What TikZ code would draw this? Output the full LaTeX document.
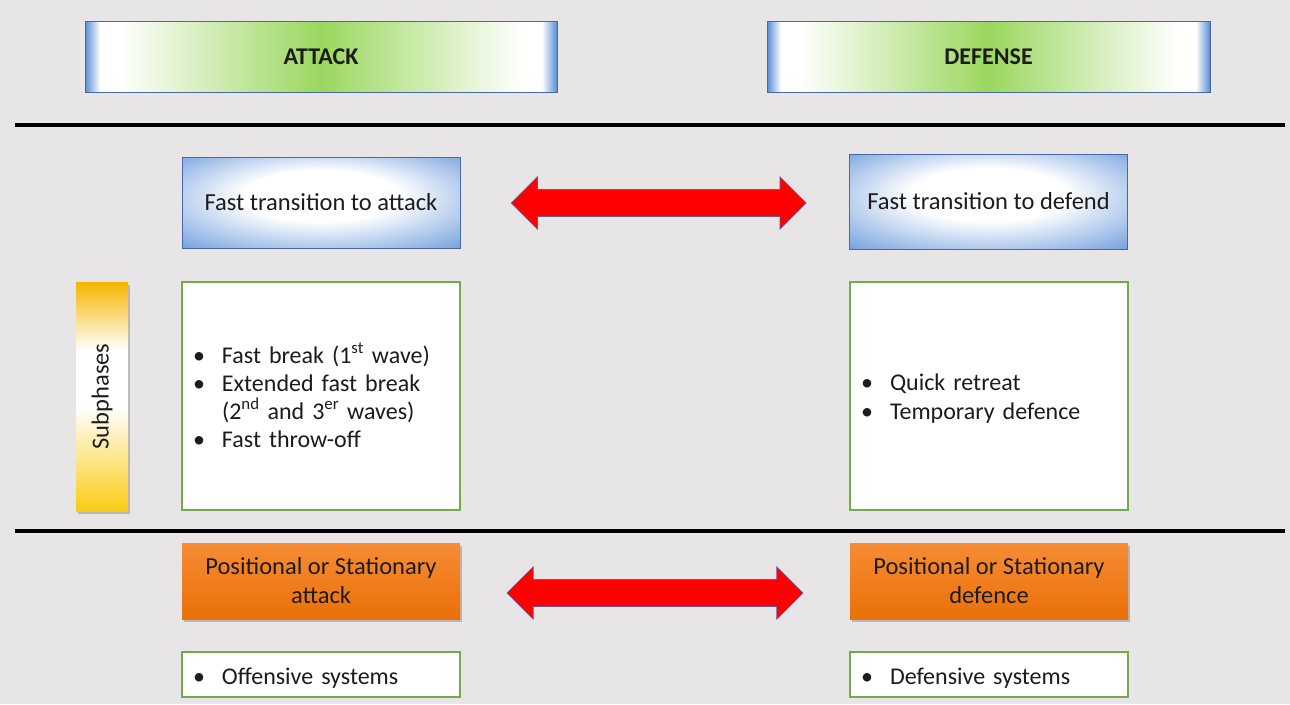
\documentclass[tikz,border=0pt]{standalone}
\usepackage{fontspec}
\setmainfont{Carlito}
\usetikzlibrary{shadows,calc}

\definecolor{bg}{RGB}{231,229,230}
\definecolor{hdrblue}{RGB}{88,140,212}
\definecolor{hdrgreen}{RGB}{155,215,95}
\definecolor{boxblue}{RGB}{84,138,214}
\definecolor{edgeblue}{RGB}{72,104,168}
\definecolor{framegreen}{RGB}{112,173,71}
\definecolor{goldtop}{RGB}{245,182,0}
\definecolor{goldbot}{RGB}{250,204,20}
\definecolor{orangetop}{RGB}{246,140,52}
\definecolor{orangebot}{RGB}{234,112,8}
\definecolor{arrowedge}{RGB}{112,84,150}
\definecolor{ink}{RGB}{28,28,28}

% blue rim, white band, green centre
\pgfdeclarehorizontalshading{hdrshade}{100bp}{color(0bp)=(hdrblue); color(25bp)=(hdrblue); color(26.6bp)=(white); color(28.6bp)=(white); color(50bp)=(hdrgreen); color(71.4bp)=(white); color(73.4bp)=(white); color(75bp)=(hdrblue); color(100bp)=(hdrblue)}
% white glow fading to blue
\pgfdeclareradialshading{phaseshade}{\pgfpoint{0bp}{5bp}}{color(0bp)=(white); color(14bp)=(white); color(42bp)=(boxblue); color(50bp)=(boxblue)}
% gold ends with a white middle
\pgfdeclareverticalshading{subshade}{100bp}{color(0bp)=(goldbot); color(25bp)=(goldbot); color(48bp)=(white); color(60bp)=(white); color(75bp)=(goldtop); color(100bp)=(goldtop)}

\newcommand\bitem[1]{\makebox[29pt][l]{\textbullet}#1}
\newcommand\redarrow[2]{%
  \filldraw[fill=red, draw=arrowedge, line width=0.7pt]
    (#1) -- ($(#1)+(26,-26)$) -- ($(#1)+(26,-13.5)$)
    -- ($(#2)+(-26,-13.5)$) -- ($(#2)+(-26,-26)$) -- (#2)
    -- ($(#2)+(-26,26)$) -- ($(#2)+(-26,13.5)$)
    -- ($(#1)+(26,13.5)$) -- ($(#1)+(26,26)$) -- cycle;}

\begin{document}
\begin{tikzpicture}[x=1pt, y=-1pt,
  every node/.style={font=\fontsize{24.5}{29}\selectfont, text=ink},
  header/.style={draw=edgeblue, line width=0.9pt, shading=hdrshade,
    minimum width=#1, minimum height=71, inner sep=0pt,
    font=\fontsize{24}{28}\selectfont\bfseries},
  phase/.style={draw=edgeblue, line width=0.9pt, shading=phaseshade,
    minimum width=278, minimum height=#1, inner sep=0pt},
  listbox/.style={draw=framegreen, fill=white, line width=1.8pt,
    text width=256, inner xsep=11, inner ysep=0pt,
    minimum height=#1, align=left, font=\fontsize{24}{29}\selectfont},
  posbox/.style={top color=orangetop, bottom color=orangebot,
    minimum width=278, minimum height=76, inner sep=0pt, align=center,
    drop shadow={shadow xshift=1.5pt, shadow yshift=-3pt, opacity=0.3, fill=black!70}},
  subbar/.style={shading=subshade, minimum width=52, minimum height=229,
    inner sep=0pt,
    drop shadow={shadow xshift=1.5pt, shadow yshift=-3pt, opacity=0.3, fill=black!70}},
  rule/.style={line width=4pt, black}]

\fill[bg] (0,0) rectangle (1290,704);
\useasboundingbox (0,0) rectangle (1290,704);

% column headers
\node[header=472] (hatk) at (321,56.5) {ATTACK};
\node[header=443] (hdef) at (988.5,56.5) {DEFENSE};

% separators
\draw[rule] (15,125) -- (1285,125);
\draw[rule] (15,531) -- (1285,531);

% transition phases
\node[phase=91] (fta) at (321,202.5) {Fast transition to attack};
\node[phase=95] (ftd) at (988.5,201.5) {Fast transition to defend};
\coordinate (r1l) at ($(fta.east)+(51,0.5)$);
\coordinate (r1r) at ($(ftd.west)+(-43,0)$);
\redarrow{r1l}{r1r |- r1l}

% subphases
\node[subbar] (sub) at (102,396.5) {};
\node[rotate=90] (subt) at (sub.center) {Subphases};

\node[listbox=228, font=\fontsize{24}{28}\selectfont,
      text height=18pt, text depth=84pt] (lsa) at (321,396) {%
  \bitem{Fast break (1\textsuperscript{st} wave)}\\
  \bitem{Extended fast break}\\
  \hspace*{29pt}(2\textsuperscript{nd} and 3\textsuperscript{er} waves)\\
  \bitem{Fast throw-off}};
\node[listbox=228, text height=18pt, text depth=28.8pt] (lsd) at (989,396) {%
  \bitem{Quick retreat}\\
  \bitem{Temporary defence}};

% positional phases
\node[posbox] (pa) at (321,581) {Positional or Stationary\\attack};
\node[posbox] (pd) at (989,581) {Positional or Stationary\\defence};
\coordinate (r2l) at ($(pa.east)+(47,12)$);
\coordinate (r2r) at ($(pd.west)+(-47,12)$);
\redarrow{r2l}{r2r}

\node[listbox=45, text height=20pt, text depth=0pt] (sya) at (321,674.5) {\bitem{Offensive systems}};
\node[listbox=45, text height=20pt, text depth=0pt] (syd) at (989,674.5) {\bitem{Defensive systems}};
\end{tikzpicture}
\end{document}
